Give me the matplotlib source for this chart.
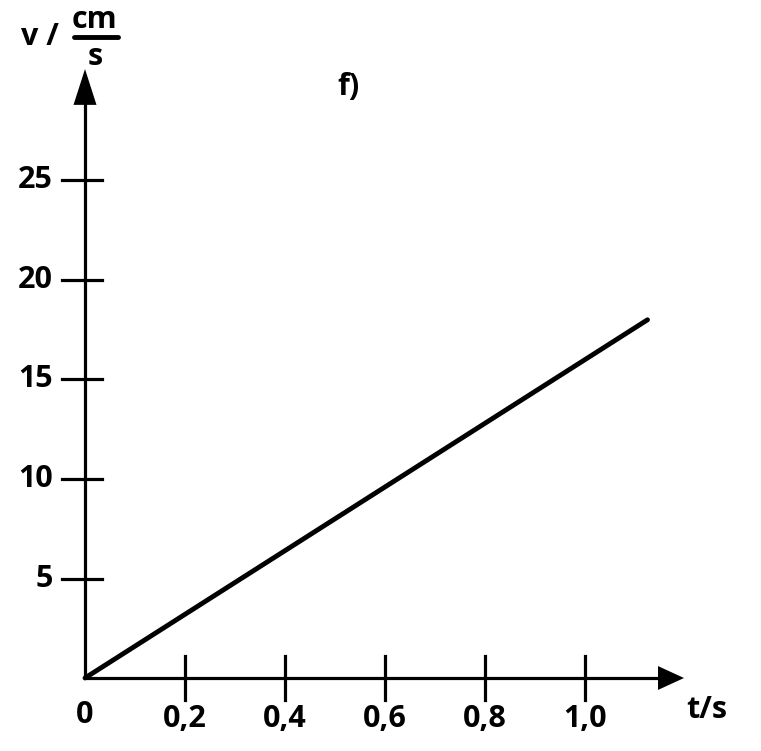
import matplotlib
matplotlib.use('Agg')
from matplotlib import pyplot as plt

# Daten
t_werte = [0.0, 1.125]
v_werte = [0.0, 18.0]
x_ticks = [0.2, 0.4, 0.6, 0.8, 1.0]
x_labels = ['0,2', '0,4', '0,6', '0,8', '1,0']
y_ticks = [5, 10, 15, 20, 25]
y_labels = ['5', '10', '15', '20', '25']

plt.rcParams['font.family'] = ['Open Sans', 'DejaVu Sans']

fig = plt.figure(figsize=(7.61, 7.51), dpi=100)
ax = fig.add_axes([0, 0, 1, 1])
ax.set_xlim(-0.17, 1.352)
ax.set_ylim(-3.668, 34.07)
ax.axis('off')

fs = 22
axis_lw = 2.3
sx = 1 / 500  # t pro Pixel

# Achsen mit Pfeilen
ax.plot([0, 1.15], [0, 0], color='black', lw=axis_lw, solid_capstyle='butt')
ax.plot([0, 0], [0, 29.0], color='black', lw=axis_lw, solid_capstyle='butt')
ax.fill([1.146, 1.198, 1.146], [0.6, 0, -0.6], color='black', lw=0)
ax.fill([-0.023, 0, 0.023], [28.8, 30.6, 28.8], color='black', lw=0)

# Striche
for xt, lab in zip(x_ticks, x_labels):
    ax.plot([xt, xt], [-1.1, 1.1], color='black', lw=axis_lw)
    ax.text(xt, -2.05, lab, ha='center', va='center', fontsize=fs, fontweight='bold')
for yt, lab in zip(y_ticks, y_labels):
    ax.plot([-23 * sx, 17 * sx], [yt, yt], color='black', lw=axis_lw)
    ax.text(-0.064, yt, lab, ha='right', va='center', fontsize=fs, fontweight='bold')
ax.text(0, -1.85, '0', ha='center', va='center', fontsize=fs, fontweight='bold')

# Gerade
ax.plot(t_werte, v_werte, color='black', lw=3.5, solid_capstyle='round')

# Beschriftungen
ax.text(0.526, 29.7, 'f)', ha='center', va='center', fontsize=fs, fontweight='bold')
ax.text(1.244, -1.6, 't/s', ha='center', va='center', fontsize=fs, fontweight='bold')
ax.text(-0.09, 32.2, 'v /', ha='center', va='center', fontsize=fs, fontweight='bold')
ax.text(0.018, 33.05, 'cm', ha='center', va='center', fontsize=fs, fontweight='bold')
ax.plot([-0.022, 0.066], [32.2, 32.2], color='black', lw=3.5, solid_capstyle='round')
ax.text(0.02, 31.2, 's', ha='center', va='center', fontsize=fs, fontweight='bold')

fig.savefig('out.png', dpi=100)
